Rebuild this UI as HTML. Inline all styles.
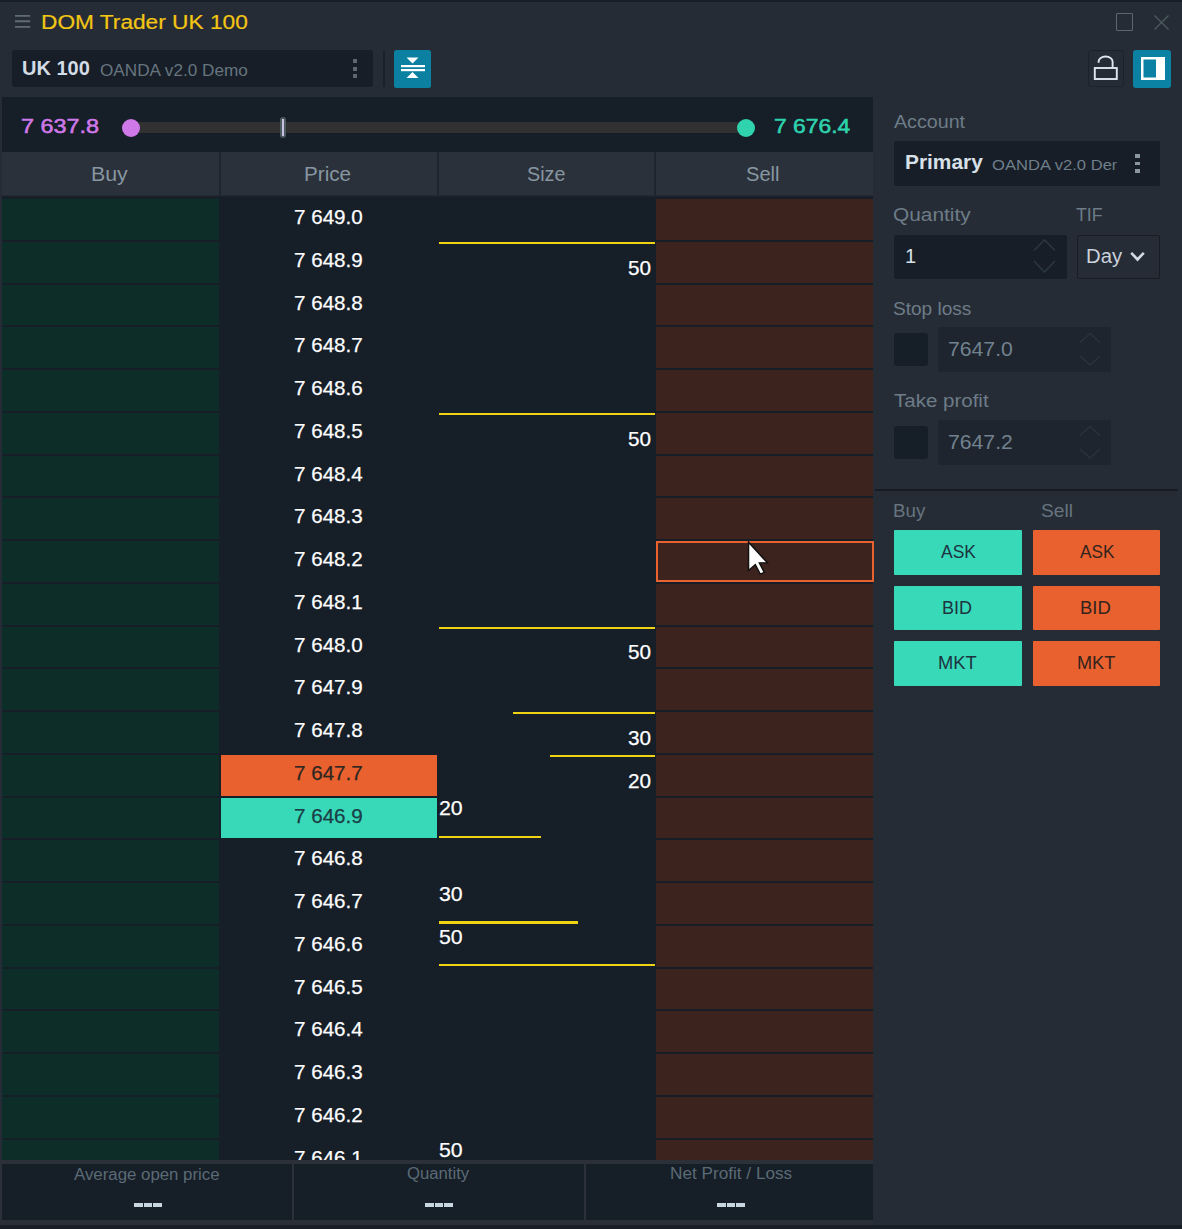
<!DOCTYPE html>
<html><head><meta charset="utf-8"><title>DOM Trader UK 100</title><style>
*{margin:0;padding:0;box-sizing:border-box}
html,body{width:1182px;height:1229px;overflow:hidden;background:#262c35;font-family:"Liberation Sans",sans-serif}
.a{position:absolute}
.t{position:absolute;white-space:nowrap;line-height:1}
</style></head><body>
<div class="a" style="left:0px;top:0px;width:1182px;height:2px;background:#171e26;"></div>
<svg class="a" style="left:14px;top:12px" width="18" height="18" viewBox="0 0 18 18"><path d="M1 3.9H16.2M1 9.3H16.2M1 14.9H16.2" stroke="#5f6b73" stroke-width="1.9"/></svg>
<div class="t" style="left:40.87px;top:11.7px;font-size:20px;color:#f3c514;transform:scaleX(1.1343);transform-origin:0 0;-webkit-text-stroke:0.2px #f3c514;">DOM Trader UK 100</div>
<div class="a" style="left:1116px;top:13px;width:17px;height:18px;border:1.5px solid #5a676e;border-radius:1px"></div>
<svg class="a" style="left:1152px;top:13px" width="19" height="19" viewBox="0 0 19 19"><path d="M2.5 2.5L16.5 16.5M16.5 2.5L2.5 16.5" stroke="#4d5a5f" stroke-width="1.3"/></svg>
<div class="a" style="left:12px;top:50px;width:361px;height:37px;background:#171e27;border-radius:3px;"></div>
<div class="t" style="left:22.05px;top:56.9px;font-size:21px;color:#d3dbe5;font-weight:bold;transform:scaleX(0.9529);transform-origin:0 0;">UK 100</div>
<div class="t" style="left:100.4px;top:63.3px;font-size:16px;color:#66757f;transform:scaleX(1.0725);transform-origin:0 0;">OANDA v2.0 Demo</div>
<div class="a" style="left:353px;top:59px;width:4px;height:4px;background:#5c686e;"></div>
<div class="a" style="left:353px;top:67px;width:4px;height:4px;background:#5c686e;"></div>
<div class="a" style="left:353px;top:74px;width:4px;height:4px;background:#5c686e;"></div>
<div class="a" style="left:383px;top:50px;width:2px;height:37px;background:#1b2129;"></div>
<div class="a" style="left:394px;top:50px;width:37px;height:38px;background:#0b80a0;border-radius:2.5px;"></div>
<svg class="a" style="left:394px;top:50px" width="37" height="38" viewBox="0 0 37 38"><path d="M12.5 7.5H24.5L18.5 13.5Z" fill="#fff"/><rect x="7" y="15" width="24" height="2.2" fill="#fff"/><rect x="7" y="19" width="24" height="2.2" fill="#fff"/><path d="M12.5 28H24.5L18.5 22Z" fill="#fff"/></svg>
<div class="a" style="left:1088px;top:50px;width:36px;height:37px;border:1.5px solid #1c222a;border-radius:3px"></div>
<svg class="a" style="left:1088px;top:50px" width="36" height="37" viewBox="0 0 36 37"><rect x="6.8" y="18" width="22" height="11" fill="none" stroke="#dfe6ef" stroke-width="1.9"/><path d="M10.6 12.8V11.5A7 5 0 0 1 24.6 11.5V17.5" fill="none" stroke="#dfe6ef" stroke-width="1.9"/></svg>
<div class="a" style="left:1133px;top:50px;width:38px;height:38px;background:#0b82a3;border-radius:3px;"></div>
<svg class="a" style="left:1133px;top:50px" width="38" height="38" viewBox="0 0 38 38"><rect x="8" y="7" width="24" height="23" fill="#fff"/><rect x="10.5" y="9.5" width="12.5" height="18" fill="#0b82a3"/></svg>
<div class="a" style="left:2px;top:97px;width:871px;height:1063px;background:#161e27;"></div>
<div class="t" style="left:20.83px;top:116px;font-size:20px;color:#cf78e8;transform:scaleX(1.1692);transform-origin:0 0;-webkit-text-stroke:0.55px #cf78e8;">7 637.8</div>
<div class="a" style="left:131px;top:122px;width:615px;height:11px;background:#313132;"></div>
<div class="a" style="left:122px;top:118.5px;width:18px;height:18px;border-radius:50%;background:#cf78e8"></div>
<div class="a" style="left:737px;top:118.5px;width:18px;height:18px;border-radius:50%;background:#2fd3ad"></div>
<div class="a" style="left:280px;top:117px;width:6px;height:21px;border-radius:3px;background:#4b5a5c"></div>
<div class="a" style="left:282px;top:119px;width:2px;height:17px;background:#c8bfe2;"></div>
<div class="t" style="left:774.26px;top:116.4px;font-size:20px;color:#2ed3ae;transform:scaleX(1.1424);transform-origin:0 0;-webkit-text-stroke:0.55px #2ed3ae;">7 676.4</div>
<div class="a" style="left:2px;top:152px;width:871px;height:43px;background:#2b313a;"></div>
<div class="a" style="left:2px;top:195px;width:871px;height:1px;background:#232932;"></div>
<div class="a" style="left:2px;top:196px;width:871px;height:1px;background:#1b222b;"></div>
<div class="a" style="left:219px;top:152px;width:2px;height:44px;background:#1f252d;"></div>
<div class="a" style="left:437px;top:152px;width:2px;height:44px;background:#1f252d;"></div>
<div class="a" style="left:654px;top:152px;width:2px;height:44px;background:#1f252d;"></div>
<div class="t" style="left:91.23px;top:164.1px;font-size:20px;color:#8796a1;transform:scaleX(1.0676);transform-origin:0 0;">Buy</div>
<div class="t" style="left:303.57px;top:164.1px;font-size:20px;color:#8796a1;transform:scaleX(1.0341);transform-origin:0 0;">Price</div>
<div class="t" style="left:527.01px;top:164.3px;font-size:20px;color:#8796a1;transform:scaleX(0.9865);transform-origin:0 0;">Size</div>
<div class="t" style="left:746.19px;top:164.0px;font-size:20px;color:#8796a1;transform:scaleX(1.0062);transform-origin:0 0;">Sell</div>
<div class="a" style="left:2px;top:199.0px;width:217px;height:40.76px;background:#0d2e28;"></div>
<div class="a" style="left:656px;top:199.0px;width:217px;height:40.76px;background:#3d231d;"></div>
<div class="t" style="left:293.82px;top:206.0px;font-size:21px;color:#ffffff;transform:scaleX(0.9812);transform-origin:0 0;-webkit-text-stroke:0.25px currentColor;">7 649.0</div>
<div class="a" style="left:2px;top:241.76px;width:217px;height:40.76px;background:#0d2e28;"></div>
<div class="a" style="left:656px;top:241.76px;width:217px;height:40.76px;background:#3d231d;"></div>
<div class="t" style="left:293.82px;top:248.76px;font-size:21px;color:#ffffff;transform:scaleX(0.9812);transform-origin:0 0;-webkit-text-stroke:0.25px currentColor;">7 648.9</div>
<div class="a" style="left:438.5px;top:241.76px;width:216.0px;height:2.2px;background:#f0d215;"></div>
<div class="t" style="left:627.61px;top:256.5px;font-size:21px;color:#ffffff;transform:scaleX(0.9864);transform-origin:0 0;-webkit-text-stroke:0.25px currentColor;">50</div>
<div class="a" style="left:2px;top:284.52px;width:217px;height:40.76px;background:#0d2e28;"></div>
<div class="a" style="left:656px;top:284.52px;width:217px;height:40.76px;background:#3d231d;"></div>
<div class="t" style="left:293.82px;top:291.52px;font-size:21px;color:#ffffff;transform:scaleX(0.9812);transform-origin:0 0;-webkit-text-stroke:0.25px currentColor;">7 648.8</div>
<div class="a" style="left:2px;top:327.29px;width:217px;height:40.76px;background:#0d2e28;"></div>
<div class="a" style="left:656px;top:327.29px;width:217px;height:40.76px;background:#3d231d;"></div>
<div class="t" style="left:293.82px;top:334.29px;font-size:21px;color:#ffffff;transform:scaleX(0.9812);transform-origin:0 0;-webkit-text-stroke:0.25px currentColor;">7 648.7</div>
<div class="a" style="left:2px;top:370.05px;width:217px;height:40.76px;background:#0d2e28;"></div>
<div class="a" style="left:656px;top:370.05px;width:217px;height:40.76px;background:#3d231d;"></div>
<div class="t" style="left:293.82px;top:377.05px;font-size:21px;color:#ffffff;transform:scaleX(0.9812);transform-origin:0 0;-webkit-text-stroke:0.25px currentColor;">7 648.6</div>
<div class="a" style="left:2px;top:412.81px;width:217px;height:40.76px;background:#0d2e28;"></div>
<div class="a" style="left:656px;top:412.81px;width:217px;height:40.76px;background:#3d231d;"></div>
<div class="t" style="left:293.82px;top:419.81px;font-size:21px;color:#ffffff;transform:scaleX(0.9812);transform-origin:0 0;-webkit-text-stroke:0.25px currentColor;">7 648.5</div>
<div class="a" style="left:438.5px;top:412.81px;width:216.0px;height:2.2px;background:#f0d215;"></div>
<div class="t" style="left:627.61px;top:427.55px;font-size:21px;color:#ffffff;transform:scaleX(0.9864);transform-origin:0 0;-webkit-text-stroke:0.25px currentColor;">50</div>
<div class="a" style="left:2px;top:455.57px;width:217px;height:40.76px;background:#0d2e28;"></div>
<div class="a" style="left:656px;top:455.57px;width:217px;height:40.76px;background:#3d231d;"></div>
<div class="t" style="left:293.82px;top:462.57px;font-size:21px;color:#ffffff;transform:scaleX(0.9812);transform-origin:0 0;-webkit-text-stroke:0.25px currentColor;">7 648.4</div>
<div class="a" style="left:2px;top:498.33px;width:217px;height:40.76px;background:#0d2e28;"></div>
<div class="a" style="left:656px;top:498.33px;width:217px;height:40.76px;background:#3d231d;"></div>
<div class="t" style="left:293.82px;top:505.33px;font-size:21px;color:#ffffff;transform:scaleX(0.9812);transform-origin:0 0;-webkit-text-stroke:0.25px currentColor;">7 648.3</div>
<div class="a" style="left:2px;top:541.1px;width:217px;height:40.76px;background:#0d2e28;"></div>
<div class="a" style="left:656px;top:541.1px;width:217px;height:40.76px;background:#3d231d;"></div>
<div class="t" style="left:293.82px;top:548.1px;font-size:21px;color:#ffffff;transform:scaleX(0.9812);transform-origin:0 0;-webkit-text-stroke:0.25px currentColor;">7 648.2</div>
<div class="a" style="left:2px;top:583.86px;width:217px;height:40.76px;background:#0d2e28;"></div>
<div class="a" style="left:656px;top:583.86px;width:217px;height:40.76px;background:#3d231d;"></div>
<div class="t" style="left:293.82px;top:590.86px;font-size:21px;color:#ffffff;transform:scaleX(0.9812);transform-origin:0 0;-webkit-text-stroke:0.25px currentColor;">7 648.1</div>
<div class="a" style="left:2px;top:626.62px;width:217px;height:40.76px;background:#0d2e28;"></div>
<div class="a" style="left:656px;top:626.62px;width:217px;height:40.76px;background:#3d231d;"></div>
<div class="t" style="left:293.82px;top:633.62px;font-size:21px;color:#ffffff;transform:scaleX(0.9812);transform-origin:0 0;-webkit-text-stroke:0.25px currentColor;">7 648.0</div>
<div class="a" style="left:438.5px;top:626.62px;width:216.0px;height:2.2px;background:#f0d215;"></div>
<div class="t" style="left:627.61px;top:641.36px;font-size:21px;color:#ffffff;transform:scaleX(0.9864);transform-origin:0 0;-webkit-text-stroke:0.25px currentColor;">50</div>
<div class="a" style="left:2px;top:669.38px;width:217px;height:40.76px;background:#0d2e28;"></div>
<div class="a" style="left:656px;top:669.38px;width:217px;height:40.76px;background:#3d231d;"></div>
<div class="t" style="left:293.82px;top:676.38px;font-size:21px;color:#ffffff;transform:scaleX(0.9812);transform-origin:0 0;-webkit-text-stroke:0.25px currentColor;">7 647.9</div>
<div class="a" style="left:2px;top:712.14px;width:217px;height:40.76px;background:#0d2e28;"></div>
<div class="a" style="left:656px;top:712.14px;width:217px;height:40.76px;background:#3d231d;"></div>
<div class="t" style="left:293.82px;top:719.14px;font-size:21px;color:#ffffff;transform:scaleX(0.9812);transform-origin:0 0;-webkit-text-stroke:0.25px currentColor;">7 647.8</div>
<div class="a" style="left:513px;top:712.14px;width:141.5px;height:2.2px;background:#f0d215;"></div>
<div class="t" style="left:627.61px;top:726.88px;font-size:21px;color:#ffffff;transform:scaleX(0.9864);transform-origin:0 0;-webkit-text-stroke:0.25px currentColor;">30</div>
<div class="a" style="left:2px;top:754.91px;width:217px;height:40.76px;background:#0d2e28;"></div>
<div class="a" style="left:656px;top:754.91px;width:217px;height:40.76px;background:#3d231d;"></div>
<div class="a" style="left:221px;top:754.91px;width:216px;height:40.76px;background:#e8612f;"></div>
<div class="t" style="left:293.82px;top:761.91px;font-size:21px;color:#2e2621;transform:scaleX(0.9812);transform-origin:0 0;-webkit-text-stroke:0.25px currentColor;">7 647.7</div>
<div class="a" style="left:550px;top:754.91px;width:104.5px;height:2.2px;background:#f0d215;"></div>
<div class="t" style="left:627.61px;top:769.64px;font-size:21px;color:#ffffff;transform:scaleX(0.9864);transform-origin:0 0;-webkit-text-stroke:0.25px currentColor;">20</div>
<div class="a" style="left:2px;top:797.67px;width:217px;height:40.76px;background:#0d2e28;"></div>
<div class="a" style="left:656px;top:797.67px;width:217px;height:40.76px;background:#3d231d;"></div>
<div class="a" style="left:221px;top:797.67px;width:216px;height:40.76px;background:#37d9b8;"></div>
<div class="t" style="left:293.82px;top:804.67px;font-size:21px;color:#1b3d45;transform:scaleX(0.9812);transform-origin:0 0;-webkit-text-stroke:0.25px currentColor;">7 646.9</div>
<div class="a" style="left:438.5px;top:835.83px;width:102.5px;height:2.2px;background:#f0d215;"></div>
<div class="t" style="left:439.19px;top:797.3px;font-size:21px;color:#ffffff;transform:scaleX(1.0136);transform-origin:0 0;-webkit-text-stroke:0.25px currentColor;">20</div>
<div class="a" style="left:2px;top:840.43px;width:217px;height:40.76px;background:#0d2e28;"></div>
<div class="a" style="left:656px;top:840.43px;width:217px;height:40.76px;background:#3d231d;"></div>
<div class="t" style="left:293.82px;top:847.43px;font-size:21px;color:#ffffff;transform:scaleX(0.9812);transform-origin:0 0;-webkit-text-stroke:0.25px currentColor;">7 646.8</div>
<div class="a" style="left:2px;top:883.19px;width:217px;height:40.76px;background:#0d2e28;"></div>
<div class="a" style="left:656px;top:883.19px;width:217px;height:40.76px;background:#3d231d;"></div>
<div class="t" style="left:293.82px;top:890.19px;font-size:21px;color:#ffffff;transform:scaleX(0.9812);transform-origin:0 0;-webkit-text-stroke:0.25px currentColor;">7 646.7</div>
<div class="a" style="left:438.5px;top:921.35px;width:139.5px;height:2.2px;background:#f0d215;"></div>
<div class="t" style="left:439.19px;top:882.82px;font-size:21px;color:#ffffff;transform:scaleX(1.0136);transform-origin:0 0;-webkit-text-stroke:0.25px currentColor;">30</div>
<div class="a" style="left:2px;top:925.95px;width:217px;height:40.76px;background:#0d2e28;"></div>
<div class="a" style="left:656px;top:925.95px;width:217px;height:40.76px;background:#3d231d;"></div>
<div class="t" style="left:293.82px;top:932.95px;font-size:21px;color:#ffffff;transform:scaleX(0.9812);transform-origin:0 0;-webkit-text-stroke:0.25px currentColor;">7 646.6</div>
<div class="a" style="left:438.5px;top:964.11px;width:216.0px;height:2.2px;background:#f0d215;"></div>
<div class="t" style="left:439.19px;top:925.59px;font-size:21px;color:#ffffff;transform:scaleX(1.0136);transform-origin:0 0;-webkit-text-stroke:0.25px currentColor;">50</div>
<div class="a" style="left:2px;top:968.72px;width:217px;height:40.76px;background:#0d2e28;"></div>
<div class="a" style="left:656px;top:968.72px;width:217px;height:40.76px;background:#3d231d;"></div>
<div class="t" style="left:293.82px;top:975.72px;font-size:21px;color:#ffffff;transform:scaleX(0.9812);transform-origin:0 0;-webkit-text-stroke:0.25px currentColor;">7 646.5</div>
<div class="a" style="left:2px;top:1011.48px;width:217px;height:40.76px;background:#0d2e28;"></div>
<div class="a" style="left:656px;top:1011.48px;width:217px;height:40.76px;background:#3d231d;"></div>
<div class="t" style="left:293.82px;top:1018.48px;font-size:21px;color:#ffffff;transform:scaleX(0.9812);transform-origin:0 0;-webkit-text-stroke:0.25px currentColor;">7 646.4</div>
<div class="a" style="left:2px;top:1054.24px;width:217px;height:40.76px;background:#0d2e28;"></div>
<div class="a" style="left:656px;top:1054.24px;width:217px;height:40.76px;background:#3d231d;"></div>
<div class="t" style="left:293.82px;top:1061.24px;font-size:21px;color:#ffffff;transform:scaleX(0.9812);transform-origin:0 0;-webkit-text-stroke:0.25px currentColor;">7 646.3</div>
<div class="a" style="left:2px;top:1097.0px;width:217px;height:40.76px;background:#0d2e28;"></div>
<div class="a" style="left:656px;top:1097.0px;width:217px;height:40.76px;background:#3d231d;"></div>
<div class="t" style="left:293.82px;top:1104.0px;font-size:21px;color:#ffffff;transform:scaleX(0.9812);transform-origin:0 0;-webkit-text-stroke:0.25px currentColor;">7 646.2</div>
<div class="a" style="left:2px;top:1139.76px;width:217px;height:20.24px;background:#0d2e28;"></div>
<div class="a" style="left:656px;top:1139.76px;width:217px;height:20.24px;background:#3d231d;"></div>
<div class="t" style="left:293.82px;top:1146.76px;font-size:21px;color:#ffffff;transform:scaleX(0.9812);transform-origin:0 0;-webkit-text-stroke:0.25px currentColor;">7 646.1</div>
<div class="t" style="left:439.19px;top:1139.4px;font-size:21px;color:#ffffff;transform:scaleX(1.0136);transform-origin:0 0;-webkit-text-stroke:0.25px currentColor;">50</div>
<div class="a" style="left:656px;top:541px;width:218px;height:41px;border:2px solid #e8612f"></div>
<svg class="a" style="left:746px;top:540px" width="26" height="38" viewBox="0 0 26 38"><path transform="translate(1.2 0.8) scale(0.9)" d="M1.5 1.5V33L9 26.5L14.5 37L19 35L13.5 24.5H22.5Z" fill="#fff" stroke="#111" stroke-width="1.6"/></svg>
<div class="a" style="left:0px;top:1160px;width:873px;height:4px;background:#2b3039;"></div>
<div class="a" style="left:0px;top:1164px;width:2px;height:56px;background:#2b3039;"></div>
<div class="a" style="left:2px;top:1164px;width:871px;height:56px;background:#161e27;"></div>
<div class="a" style="left:292px;top:1164px;width:2px;height:56px;background:#2b3039;"></div>
<div class="a" style="left:584px;top:1164px;width:2px;height:56px;background:#2b3039;"></div>
<div class="a" style="left:0px;top:1220px;width:873px;height:5px;background:#2a2f37;"></div>
<div class="a" style="left:0px;top:1224.6px;width:1182px;height:5px;background:#171e26;"></div>
<div class="t" style="left:74.0px;top:1166.6px;font-size:16px;color:#5b6a75;transform:scaleX(1.0514);transform-origin:0 0;">Average open price</div>
<div class="t" style="left:407.1px;top:1166.4px;font-size:16px;color:#5b6a75;transform:scaleX(1.0433);transform-origin:0 0;">Quantity</div>
<div class="t" style="left:669.63px;top:1166.3px;font-size:16px;color:#5b6a75;transform:scaleX(1.0735);transform-origin:0 0;">Net Profit / Loss</div>
<div class="a" style="left:134.0px;top:1203px;width:8.5px;height:4px;background:#c8d6e2;"></div>
<div class="a" style="left:143.5px;top:1203px;width:8.5px;height:4px;background:#c8d6e2;"></div>
<div class="a" style="left:153.0px;top:1203px;width:8.5px;height:4px;background:#c8d6e2;"></div>
<div class="a" style="left:425.0px;top:1203px;width:8.5px;height:4px;background:#c8d6e2;"></div>
<div class="a" style="left:434.5px;top:1203px;width:8.5px;height:4px;background:#c8d6e2;"></div>
<div class="a" style="left:444.0px;top:1203px;width:8.5px;height:4px;background:#c8d6e2;"></div>
<div class="a" style="left:717.0px;top:1203px;width:8.5px;height:4px;background:#c8d6e2;"></div>
<div class="a" style="left:726.5px;top:1203px;width:8.5px;height:4px;background:#c8d6e2;"></div>
<div class="a" style="left:736.0px;top:1203px;width:8.5px;height:4px;background:#c8d6e2;"></div>
<div class="t" style="left:893.9px;top:114.2px;font-size:17.5px;color:#6d7c88;transform:scaleX(1.1238);transform-origin:0 0;">Account</div>
<div class="a" style="left:894px;top:141px;width:266px;height:45px;background:#171e27;border-radius:2px;"></div>
<div class="t" style="left:904.58px;top:152.4px;font-size:20.5px;color:#d8e0e8;font-weight:bold;transform:scaleX(1.0184);transform-origin:0 0;">Primary</div>
<div class="t" style="left:991.8px;top:156.7px;font-size:15px;color:#6f7f8b;transform:scaleX(1.1059);transform-origin:0 0;width:113.21px;overflow:hidden;">OANDA v2.0 Demo</div>
<div class="a" style="left:1135px;top:154px;width:4.5px;height:3.8px;background:#8a96a0;"></div>
<div class="a" style="left:1135px;top:161.5px;width:4.5px;height:3.8px;background:#8a96a0;"></div>
<div class="a" style="left:1135px;top:169px;width:4.5px;height:3.8px;background:#8a96a0;"></div>
<div class="t" style="left:892.71px;top:206.9px;font-size:17.5px;color:#6d7c88;transform:scaleX(1.1906);transform-origin:0 0;">Quantity</div>
<div class="t" style="left:1076.1px;top:207px;font-size:17.5px;color:#6d7c88;transform:scaleX(1.0115);transform-origin:0 0;">TIF</div>
<div class="a" style="left:894px;top:234.6px;width:173px;height:44px;background:#171e27;border-radius:2px;"></div>
<div class="t" style="left:905.0px;top:246px;font-size:20px;color:#d8e2ea;">1</div>
<svg class="a" style="left:1030px;top:236px" width="30" height="40" viewBox="0 0 30 40"><path d="M4 14.5L14.5 4L25 14.5M4 25L14.5 36L25 25" fill="none" stroke="#2b3641" stroke-width="1.6"/></svg>
<div class="a" style="left:1076.5px;top:234.7px;width:83px;height:44px;border:1.5px solid #181d24;border-radius:2px"></div>
<div class="t" style="left:1086.09px;top:246.1px;font-size:20px;color:#c9d2dc;transform:scaleX(1.0143);transform-origin:0 0;">Day</div>
<svg class="a" style="left:1129px;top:250px" width="17" height="14" viewBox="0 0 17 14"><path d="M2.2 2.8L8.5 9.5L14.8 2.8" fill="none" stroke="#d3dae3" stroke-width="2.6"/></svg>
<div class="t" style="left:892.61px;top:300.6px;font-size:17.5px;color:#6d7c88;transform:scaleX(1.0887);transform-origin:0 0;">Stop loss</div>
<div class="a" style="left:894px;top:333px;width:34px;height:33px;background:#161e27;border-radius:3px;"></div>
<div class="a" style="left:938px;top:327px;width:173px;height:44.5px;background:#1f252e;border-radius:2px;"></div>
<div class="t" style="left:948.49px;top:337.8px;font-size:21px;color:#71828e;transform:scaleX(1.0095);transform-origin:0 0;">7647.0</div>
<svg class="a" style="left:1076px;top:331px" width="28" height="38" viewBox="0 0 28 38"><path d="M4 11.5L14 2.5L24 11.5M4 25L14 34L24 25" fill="none" stroke="#2a333d" stroke-width="1.5"/></svg>
<div class="t" style="left:893.9px;top:393.1px;font-size:17.5px;color:#6d7c88;transform:scaleX(1.1716);transform-origin:0 0;">Take profit</div>
<div class="a" style="left:894px;top:426px;width:34px;height:33px;background:#161e27;border-radius:3px;"></div>
<div class="a" style="left:938px;top:420px;width:173px;height:44.5px;background:#1f252e;border-radius:2px;"></div>
<div class="t" style="left:948.49px;top:430.8px;font-size:21px;color:#71828e;transform:scaleX(1.0095);transform-origin:0 0;">7647.2</div>
<svg class="a" style="left:1076px;top:424px" width="28" height="38" viewBox="0 0 28 38"><path d="M4 11.5L14 2.5L24 11.5M4 25L14 34L24 25" fill="none" stroke="#2a333d" stroke-width="1.5"/></svg>
<div class="a" style="left:875px;top:489px;width:303px;height:2px;background:#171c22;"></div>
<div class="t" style="left:893.23px;top:502.8px;font-size:17.5px;color:#65747f;transform:scaleX(1.0724);transform-origin:0 0;">Buy</div>
<div class="t" style="left:1040.5px;top:502.8px;font-size:17.5px;color:#65747f;transform:scaleX(1.0963);transform-origin:0 0;">Sell</div>
<div class="a" style="left:894px;top:530px;width:128.3px;height:44.6px;background:#37d9b8;border-radius:1px;"></div>
<div class="a" style="left:1033px;top:530px;width:127px;height:44.6px;background:#e8612f;border-radius:1px;"></div>
<div class="t" style="left:940.7px;top:543.7px;font-size:17.5px;color:#1d3340;transform:scaleX(0.9971);transform-origin:0 0;">ASK</div>
<div class="t" style="left:1079.9px;top:543.7px;font-size:17.5px;color:#33241d;transform:scaleX(0.98);transform-origin:0 0;">ASK</div>
<div class="a" style="left:894px;top:585.6px;width:128.3px;height:44.6px;background:#37d9b8;border-radius:1px;"></div>
<div class="a" style="left:1033px;top:585.6px;width:127px;height:44.6px;background:#e8612f;border-radius:1px;"></div>
<div class="t" style="left:942.47px;top:600px;font-size:17.5px;color:#1d3340;transform:scaleX(1.0286);transform-origin:0 0;">BID</div>
<div class="t" style="left:1080.34px;top:600px;font-size:17.5px;color:#33241d;transform:scaleX(1.0571);transform-origin:0 0;">BID</div>
<div class="a" style="left:894px;top:641px;width:128.3px;height:44.6px;background:#37d9b8;border-radius:1px;"></div>
<div class="a" style="left:1033px;top:641px;width:127px;height:44.6px;background:#e8612f;border-radius:1px;"></div>
<div class="t" style="left:937.75px;top:655.3px;font-size:17.5px;color:#1d3340;transform:scaleX(1.0472);transform-origin:0 0;">MKT</div>
<div class="t" style="left:1076.96px;top:655.3px;font-size:17.5px;color:#33241d;transform:scaleX(1.0361);transform-origin:0 0;">MKT</div>
</body></html>
